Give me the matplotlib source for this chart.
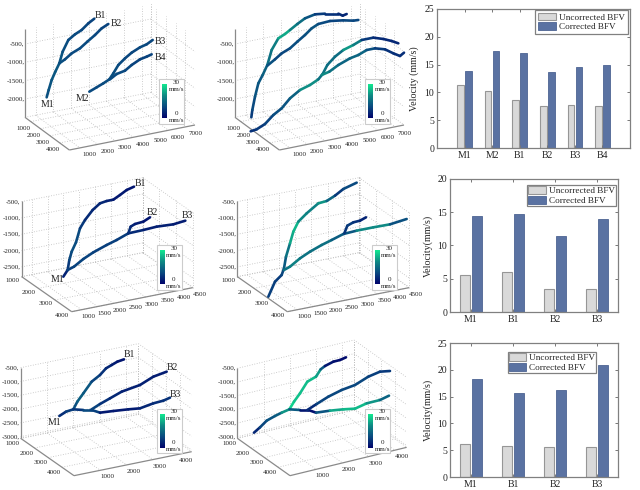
import numpy as np
import matplotlib
matplotlib.use("Agg")
from matplotlib import pyplot as plt
from matplotlib.collections import LineCollection
from matplotlib.colors import LinearSegmentedColormap

plt.rcParams['font.family'] = ['Liberation Serif', 'DejaVu Serif']

# bar chart values
top_names = ['M1', 'M2', 'B1', 'B2', 'B3', 'B4']
top_uncorrected = [11.4, 10.3, 8.7, 7.6, 7.8, 7.5]
top_corrected = [13.9, 17.5, 17.1, 13.6, 14.5, 15.0]
mid_names = ['M1', 'B1', 'B2', 'B3']
mid_uncorrected = [5.6, 6.0, 3.5, 3.5]
mid_corrected = [14.4, 14.8, 11.4, 14.0]
bot_names = ['M1', 'B1', 'B2', 'B3']
bot_uncorrected = [6.1, 5.8, 5.6, 5.6]
bot_corrected = [18.3, 15.6, 16.2, 20.9]

a1_trunk = [(140,292),(146,270),(155,240),(166,215),(178,190),(188,155),(205,120),(225,103),(245,90),(265,70),(283,56)]
a1_branch = [(178,190),(195,178),(215,160),(240,145),(262,125),(285,105),(305,85),(325,72)]
a1_m2 = [(268,275),(290,262),(310,250),(328,238),(340,220),(355,195),(375,175),(395,158),(420,142),(440,133),(458,120)]
a1_b4 = [(330,238),(350,222),(375,212),(395,195),(420,178),(440,170),(455,163)]
a1_v = [[11, 11, 12, 12, 12, 11, 10, 10, 10, 9, 9], [11, 10, 10, 10, 10, 10, 9, 9], [10, 10, 10, 11, 11, 10, 10, 9, 10, 10, 9], [10, 10, 10, 9, 9, 9, 9]]

a2_trunk = [(124,352),(127,330),(135,290),(145,250),(158,225),(172,195),(185,150),(205,115),(225,102),(240,90),(262,72),(285,55),(315,43),(345,41),(385,41),(398,47),(410,42)]
a2_branch = [(172,197),(195,178),(215,160),(240,145),(262,125),(285,105),(305,85),(325,72),(360,63),(400,61),(430,62),(445,60)]
a2_m2 = [(122,394),(140,388),(165,372),(190,345),(215,325),(240,295),(270,270),(300,255),(325,238),(338,222),(352,195),(375,170),(400,150),(430,135),(455,120),(490,113),(520,117),(545,123),(565,130)]
a2_b4 = [(335,225),(358,215),(385,195),(420,175),(445,165),(470,150),(495,145),(525,148),(550,160),(570,168),(582,158)]
a2_v = [[7, 9, 11, 12, 12, 15, 17, 19, 27, 20, 17, 14, 9, 7, 6, 5, 5],
        [12, 10, 9, 10, 11, 10, 12, 11, 9, 9, 10, 9],
        [6, 7, 8, 10, 11, 12, 15, 26, 15, 17, 16, 15, 16, 27, 9, 6, 5, 5, 5],
        [22, 18, 14, 14, 15, 13, 9, 7, 6, 6, 6]]

b1_trunk = [(190,335),(203,315),(208,285),(215,260),(228,232),(240,190),(255,165),(278,135),(300,115),(320,108),(340,104),(360,90),(380,75),(402,65)]
b1_branch = [(203,315),(222,305),(250,282),(280,262),(320,240),(350,225),(385,205),(430,195),(470,185),(520,178),(556,167)]
b1_b2 = [(385,205),(392,185),(405,177),(430,170),(450,157)]
b1_v = [[3, 6, 9, 10, 11, 9, 6, 5, 5, 5, 3, 3, 3, 2], [8, 9, 9, 9, 8, 9, 7, 4, 4, 4, 3], [7, 5, 4, 3, 2]]

b2_trunk = [(175,395),(195,350),(215,330),(222,310),(228,275),(240,235),(250,200),(265,170),(290,145),(325,115),(350,108),(375,92),(400,72),(440,53)]
b2_branch = [(222,315),(240,305),(270,280),(300,260),(335,240),(365,225),(400,207),(440,197),(490,187),(540,178),(590,162)]
b2_b2 = [(403,205),(412,182),(430,172),(450,167),(468,157)]
b2_v = [[9, 8, 8, 11, 14, 19, 27, 22, 17, 20, 22, 6, 9, 11], [14, 19, 18, 15, 17, 15, 11, 13, 26, 14, 8], [6, 8, 8, 5, 4]]

c1_trunk = [(178,258),(198,245),(220,238),(232,215),(250,190),(275,155),(300,135),(318,115),(335,105),(352,95),(372,88)]
c1_branch = [(220,238),(250,240),(275,240),(300,248),(340,243),(385,238),(420,235),(460,220),(490,212),(510,203)]
c1_b2 = [(272,240),(300,222),(330,205),(365,185),(420,165),(460,140),(500,125)]
c1_v = [[5, 7, 9, 13, 13, 11, 7, 6, 4, 3, 2], [8, 6, 14, 3, 3, 3, 4, 6, 6, 7], [11, 7, 6, 4, 4, 4, 3]]

c2_trunk = [(132,308),(150,292),(170,272),(195,258),(215,248),(238,238),(252,215),(270,190),(292,155),(318,140),(332,118),(345,108),(370,95),(390,90),(408,82)]
c2_branch = [(238,238),(270,240),(295,240),(318,248),(360,242),(400,238),(435,236),(470,220),(510,210),(537,197)]
c2_b2 = [(292,240),(320,222),(355,200),(395,180),(435,165),(475,140),(510,125),(540,123)]
c2_v = [[2, 8, 11, 12, 14, 28, 27, 25, 26, 24, 20, 3, 2, 1, 1], [22, 3, 2, 1, 22, 24, 26, 24, 18, 10], [3, 8, 10, 9, 10, 9, 8, 7]]

z_ticks_a = [-500, -1000, -1500, -2000]
z_ticks_b = [-500, -1000, -1500, -2000, -2500]
z_ticks_c = [-500, -1000, -1500, -2000, -2500, -3000]
x_ticks_a = [1000, 2000, 3000, 4000, 5000, 6000, 7000]
x_ticks_b = [1000, 1500, 2000, 2500, 3000, 3500, 4000, 4500]
x_ticks_c = [1000, 2000, 3000, 4000]
y_ticks = [1000, 2000, 3000, 4000]

flow = LinearSegmentedColormap.from_list('flow', ['#00046b', '#0a4a80', '#0f8a84', '#12e890'])
GRID = '#bdbdbd'
AXIS = '#8a8a8a'
TEXT = '#222222'
TICK_SIZE = 5.0


def make_panel(fig, x, y, w, h):
    # one axes per picture block, 3x units as read from the zooms
    ax = fig.add_axes([x/640, 1-(y+h)/490, w/640, h/490])
    ax.set_xlim(0, w*3)
    ax.set_ylim(h*3, 0)
    ax.axis('off')
    return ax


def draw_box(ax, L, F, R, T, xlim, ylim, zlim, xticks, yticks, zticks, xoff, yoff, zoff):
    L, F, R, T = [np.array(p, float) for p in (L, F, R, T)]

    def pos(px, py, pz):
        fx = (px-xlim[0])/(xlim[1]-xlim[0])
        fy = (py-ylim[0])/(ylim[1]-ylim[0])
        fz = (pz-zlim[0])/(zlim[1]-zlim[0])
        return L + fx*(R-F) + fy*(F-L) + fz*(T-L)

    def seg(a, b, **kw):
        ax.plot([a[0], b[0]], [a[1], b[1]], solid_capstyle='butt', **kw)

    dots = dict(color=GRID, lw=0.6, ls=(0, (1, 2)), zorder=1)
    for v in xticks + [xlim[1]]:
        seg(pos(v, ylim[0], zlim[0]), pos(v, ylim[1], zlim[0]), **dots)
        seg(pos(v, ylim[0], zlim[0]), pos(v, ylim[0], zlim[1]), **dots)
    for v in yticks + [ylim[0]]:
        seg(pos(xlim[0], v, zlim[0]), pos(xlim[1], v, zlim[0]), **dots)
        seg(pos(xlim[1], v, zlim[0]), pos(xlim[1], v, zlim[1]), **dots)
    for v in zticks:
        seg(pos(xlim[0], ylim[0], v), pos(xlim[1], ylim[0], v), **dots)
        seg(pos(xlim[1], ylim[0], v), pos(xlim[1], ylim[1], v), **dots)

    solid = dict(color=AXIS, lw=0.9, zorder=2)
    seg(L, T, **solid)
    seg(L, F, **solid)
    seg(F, R, **solid)

    for v in xticks:
        p = pos(v, ylim[1], zlim[0])
        ax.text(p[0]+xoff[0], p[1]+xoff[1], str(v), fontsize=TICK_SIZE, ha='center', va='center', color=TEXT)
    for v in yticks:
        p = pos(xlim[0], v, zlim[0])
        ax.text(p[0]+yoff[0], p[1]+yoff[1], str(v), fontsize=TICK_SIZE, ha='center', va='center', color=TEXT)
    for v in zticks:
        p = pos(xlim[0], ylim[0], v)
        ax.text(p[0]+zoff, p[1], str(v)+',', fontsize=TICK_SIZE, ha='right', va='center', color=TEXT)


def draw_traces(ax, traces, speeds):
    for pts, v in zip(traces, speeds):
        pts = np.array(pts, float)
        segs = np.stack([pts[:-1], pts[1:]], axis=1)
        mid = (np.array(v[:-1], float)+np.array(v[1:], float))/2
        lc = LineCollection(segs, cmap=flow, linewidths=1.9, capstyle='round', zorder=4)
        lc.set_array(mid)
        lc.set_clim(0, 30)
        ax.add_collection(lc)


def draw_scale(ax, x0, y0):
    # little colour key, box corner at x0, y0
    ax.add_patch(plt.Rectangle((x0, y0), 75, 134, fc='white', ec='#cccccc', lw=0.8, zorder=5))
    grad = np.linspace(30, 0, 64).reshape(-1, 1)
    ax.imshow(grad, cmap=flow, vmin=0, vmax=30, extent=(x0+9, x0+22, y0+117, y0+17), aspect='auto', zorder=6)
    for dy, s in [(9, '30'), (30, 'mm/s'), (102, '0'), (122, 'mm/s')]:
        ax.text(x0+52, y0+dy, s, fontsize=TICK_SIZE, ha='center', va='center', color=TEXT, zorder=7)


def draw_names(ax, names):
    for s, px, py in names:
        ax.text(px, py, s, fontsize=7, ha='center', va='center', color=TEXT, zorder=8)


def draw_bars(fig, x, y, w, h, names, raw, fixed, ymax, yticks, xlim, legend_box, pad, ylabel, label_x):
    ax = fig.add_axes([x/640, 1-(y+h)/490, w/640, h/490])
    pos = np.arange(1, len(names)+1)
    ax.bar(pos-0.145, raw, 0.24, color='#d9d9d9', edgecolor='#969696', lw=0.8, label='Uncorrected BFV')
    ax.bar(pos+0.145, fixed, 0.24, color='#5a72a2', edgecolor='#4d6493', lw=0.6, label='Corrected BFV')
    ax.set_xlim(*xlim)
    ax.set_ylim(0, ymax)
    ax.set_xticks(pos, names)
    ax.set_yticks(yticks)
    ax.tick_params(axis='both', direction='in', length=2, width=0.7, color='#777777', labelsize=7,
                   labelcolor=TEXT, top=True, right=True, pad=2)
    for s in ax.spines.values():
        s.set_color('#808080')
        s.set_linewidth(0.9)
    ax.set_ylabel(ylabel, fontsize=7.2, color=TEXT)
    ax.yaxis.set_label_coords((label_x-x)/w, 0.5)
    lx, ly, lw, lh = legend_box
    bbox = ((lx-x)/w, 1-(ly-y+lh)/h, lw/w, lh/h)
    leg = ax.legend(loc='center', bbox_to_anchor=bbox, fontsize=6.6, fancybox=False, framealpha=1,
                    edgecolor='#808080', borderpad=pad, labelspacing=0.1, handlelength=1.9, handleheight=0.9,
                    handletextpad=0.35, borderaxespad=0, labelcolor=TEXT)
    leg.get_frame().set_linewidth(0.9)
    return ax


fig = plt.figure(figsize=(6.4, 4.9), dpi=100)

# top row
ax = make_panel(fig, 0, 0, 220, 165)
draw_box(ax, (75, 352), (208, 450), (585, 375), (75, 88), (400, 7500), (400, 5000), (-2500, -100),
         x_ticks_a, y_ticks, z_ticks_a, (29, 21), (-21, 20), -1)
draw_traces(ax, [a1_trunk, a1_branch, a1_m2, a1_b4], a1_v)
draw_scale(ax, 478, 238)
draw_names(ax, [('B1', 300, 47), ('B2', 350, 70), ('B3', 480, 123), ('B4', 481, 173), ('M1', 142, 313), ('M2', 247, 295)])

ax = make_panel(fig, 210, 0, 220, 165)
draw_box(ax, (75, 352), (208, 450), (582, 375), (75, 88), (400, 7500), (400, 5000), (-2500, -100),
         x_ticks_a, y_ticks, z_ticks_a, (29, 21), (-21, 20), -1)
draw_traces(ax, [a2_trunk, a2_branch, a2_m2, a2_b4], a2_v)
draw_scale(ax, 465, 238)

# middle row
ax = make_panel(fig, 0, 165, 220, 165)
draw_box(ax, (65, 335), (215, 440), (578, 368), (65, 108), (690, 4480), (1000, 4000), (-2800, -480),
         x_ticks_b, y_ticks, z_ticks_b, (20, 21), (-28, 11), -3)
draw_traces(ax, [b1_trunk, b1_branch, b1_b2], b1_v)
draw_scale(ax, 470, 241)
draw_names(ax, [('B1', 422, 55), ('B2', 457, 142), ('B3', 561, 151), ('M1', 172, 342)])

ax = make_panel(fig, 210, 165, 220, 165)
draw_box(ax, (82, 335), (232, 440), (597, 368), (82, 108), (690, 4480), (1000, 4000), (-2800, -480),
         x_ticks_b, y_ticks, z_ticks_b, (20, 21), (-28, 11), -3)
draw_traces(ax, [b2_trunk, b2_branch, b2_b2], b2_v)
draw_scale(ax, 485, 241)

# bottom row
ax = make_panel(fig, 0, 330, 220, 160)
draw_box(ax, (62, 325), (222, 437), (575, 365), (62, 113), (0, 4468), (1000, 4870), (-3060, -500),
         x_ticks_c, y_ticks, z_ticks_c, (20, 20), (-24, 16), -3)
draw_traces(ax, [c1_trunk, c1_branch, c1_b2], c1_v)
draw_scale(ax, 470, 236)
draw_names(ax, [('B1', 388, 72), ('B2', 518, 113), ('B3', 526, 192), ('M1', 162, 278)])

ax = make_panel(fig, 210, 330, 220, 160)
draw_box(ax, (82, 325), (240, 437), (590, 352), (82, 115), (0, 4450), (1000, 4870), (-3060, -500),
         x_ticks_c, y_ticks, z_ticks_c, (20, 20), (-24, 16), -3)
draw_traces(ax, [c2_trunk, c2_branch, c2_b2], c2_v)
draw_scale(ax, 465, 236)

# bar charts
draw_bars(fig, 437, 9, 193, 139, top_names, top_uncorrected, top_corrected, 25, [0, 5, 10, 15, 20, 25],
          (0, 7), (534, 11, 95, 22), 0.3, 'Velocity (mm/s)', 419)
draw_bars(fig, 450, 179, 168, 133, mid_names, mid_uncorrected, mid_corrected, 20, [0, 5, 10, 15, 20],
          (0.5, 4.5), (529, 186, 85, 19), 0.1, 'Velocity(mm/s)', 433)
draw_bars(fig, 450, 343, 168, 134, bot_names, bot_uncorrected, bot_corrected, 25, [0, 5, 10, 15, 20, 25],
          (0.5, 4.5), (509, 353, 86, 19), 0.1, 'Velocity(mm/s)', 433)

fig.savefig('out.png', dpi=100)
plt.close(fig)
